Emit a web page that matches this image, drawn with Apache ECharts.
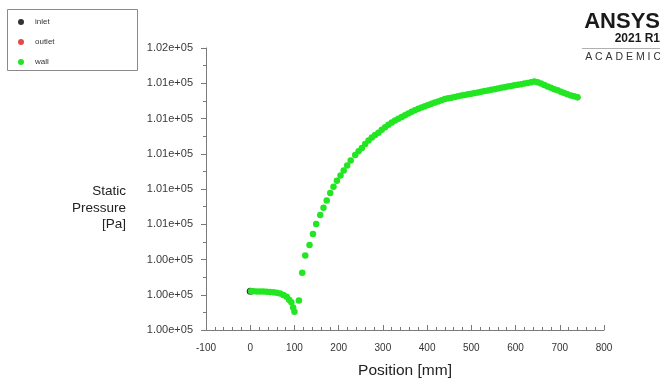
<!DOCTYPE html>
<html>
<head>
<meta charset="utf-8">
<script src="https://cdn.jsdelivr.net/npm/echarts@6/dist/echarts.min.js"></script>
<style>html,body{margin:0;padding:0;background:#fff;}#c{width:660px;height:380px;}</style>
</head>
<body>
<div id="c"></div>
<script>
// ---- data ----
const seriesNames = ['inlet', 'outlet', 'wall'];
const inletX = [0];
const inletY = [100220];
const outletX = [740];
const outletY = [101320];
const wallX = [2, 7.5, 15, 22.5, 30, 37.5, 45, 52.5, 60, 67.5, 75, 82.5, 88, 93, 97, 100, 110,
  117.6, 124.4, 134.1, 141.8, 149.2, 158.3, 165.7, 173, 180.9, 188.3, 196, 204.2, 211.4, 219.3, 227.2, 237.4,
  245, 252.5, 260, 267.5, 275, 282.5, 290, 297.5, 305, 312.5, 320, 327.5, 335, 342.5, 350, 357.5, 365, 372.5,
  380, 387.5, 395, 402.5, 410, 417.5, 425, 432.5, 440, 447.5, 455, 462.5, 470, 477.5, 485, 492.5, 500,
  507.5, 515, 522.5, 530, 537.5, 545, 552.5, 560, 567.5, 575, 582.5, 590, 597.5, 605, 612.5, 620, 627.5, 635, 642.5,
  650, 657.5, 665, 672.5, 680, 687.5, 695, 702.5, 710, 717.5, 725, 732.5, 740];
const wallY = [100220, 100220, 100219, 100219, 100218, 100217, 100216, 100214, 100212, 100207, 100199, 100188, 100172, 100158, 100128, 100104, 100168,
  100325, 100422, 100482, 100545, 100601, 100653, 100694, 100735, 100777, 100813, 100847, 100877, 100905, 100933, 100962, 100993,
  101014, 101033, 101055, 101075, 101092, 101106, 101119, 101136, 101151, 101165, 101177, 101188, 101199, 101209, 101219, 101228, 101238, 101247,
  101255, 101262, 101269, 101276, 101284, 101291, 101297, 101304, 101310, 101315, 101318, 101322, 101326, 101330, 101334, 101338, 101341,
  101345, 101348, 101352, 101356, 101359, 101363, 101366, 101370, 101374, 101377, 101381, 101384, 101388, 101392, 101395, 101399, 101402, 101406, 101410,
  101406, 101398, 101390, 101382, 101374, 101366, 101360, 101352, 101344, 101337, 101331, 101326, 101320];
const xTicks = { min: -100, max: 800, step: 100 };
const yTicks = { min: 100000, max: 101600, step: 200 };
const xTitle = 'Position [mm]';
const yTitle = 'Static\nPressure\n[Pa]';

const pairs = (xs, ys) => xs.map((x, i) => [x, ys[i]]);
const FONT = 'Liberation Sans';
const AX = '#7a7a7a';

const chart = echarts.init(document.getElementById('c'), null, { renderer: 'canvas' });
chart.setOption({
  animation: false,
  backgroundColor: '#fff',
  textStyle: { fontFamily: FONT },
  grid: { left: 206, right: 56, top: 48, bottom: 50, containLabel: false, outerBoundsMode: 'none' },
  legend: {
    orient: 'vertical', left: 18, top: 17, padding: 0,
    itemWidth: 18, itemHeight: 6, itemGap: 10,
    data: seriesNames.map(n => ({ name: n, icon: 'circle' })),
    textStyle: { fontFamily: FONT, fontSize: 8, color: '#333', lineHeight: 10 }
  },
  xAxis: {
    type: 'value', min: xTicks.min, max: xTicks.max, interval: xTicks.step,
    name: xTitle, nameLocation: 'middle', nameGap: 33,
    nameTextStyle: { fontFamily: FONT, fontSize: 15.5, color: '#222' },
    axisLine: { show: true, onZero: false, lineStyle: { color: AX, width: 1 } },
    axisTick: { show: true, inside: true, length: 5, lineStyle: { color: AX } },
    minorTick: { show: true, splitNumber: 5, length: 3, lineStyle: { color: AX } },
    splitLine: { show: false },
    axisLabel: { margin: 13, fontFamily: FONT, fontSize: 10, color: '#333' }
  },
  yAxis: {
    type: 'value', min: yTicks.min, max: yTicks.max, interval: yTicks.step,
    axisLine: { show: true, onZero: false, lineStyle: { color: AX, width: 1 } },
    axisTick: { show: true, inside: false, length: 5, lineStyle: { color: AX } },
    minorTick: { show: true, splitNumber: 2, length: 3, lineStyle: { color: AX } },
    splitLine: { show: false },
    axisLabel: { margin: 13, fontFamily: FONT, fontSize: 11, color: '#3a3a3a',
      formatter: v => (v / 1e5).toFixed(2) + 'e+05' }
  },
  graphic: [
    { type: 'rect', shape: { x: 7.5, y: 9.5, width: 130, height: 61 },
      style: { fill: 'none', stroke: '#8a8a8a', lineWidth: 1 }, z: -1 },
    { type: 'text', x: 126, y: 208, style: { text: yTitle, font: '13.5px "Liberation Sans"', fill: '#222',
      textAlign: 'right', textVerticalAlign: 'middle', lineHeight: 16.5 } },
    { type: 'text', x: 660, y: 22, style: { text: 'ANSYS', font: 'bold 22px "Liberation Sans"', fill: '#1a1a1a',
      textAlign: 'right', textVerticalAlign: 'middle' } },
    { type: 'text', x: 660, y: 38.5, style: { text: '2021 R1', font: 'bold 12px "Liberation Sans"', fill: '#1a1a1a',
      textAlign: 'right', textVerticalAlign: 'middle' } },
    { type: 'line', shape: { x1: 582, y1: 48.5, x2: 660, y2: 48.5 }, style: { stroke: '#b0b0b0', lineWidth: 1 } },
    { type: 'text', x: 661, y: 57.5, style: { text: 'A C A D E M I C', font: '10.5px "Liberation Sans"', fill: '#333',
      textAlign: 'right', textVerticalAlign: 'middle' } }
  ],
  series: [
    { name: 'inlet', type: 'scatter', symbol: 'circle', symbolSize: 7, z: 2,
      itemStyle: { color: '#000' }, data: pairs(inletX, inletY) },
    { name: 'outlet', type: 'scatter', symbol: 'circle', symbolSize: 6, z: 2,
      itemStyle: { color: '#d81e1e' }, data: pairs(outletX, outletY) },
    { name: 'wall', type: 'scatter', symbol: 'circle', symbolSize: 6.5, z: 3,
      itemStyle: { color: '#22e622', opacity: 1 }, data: pairs(wallX, wallY) }
  ]
});
</script>
</body>
</html>
